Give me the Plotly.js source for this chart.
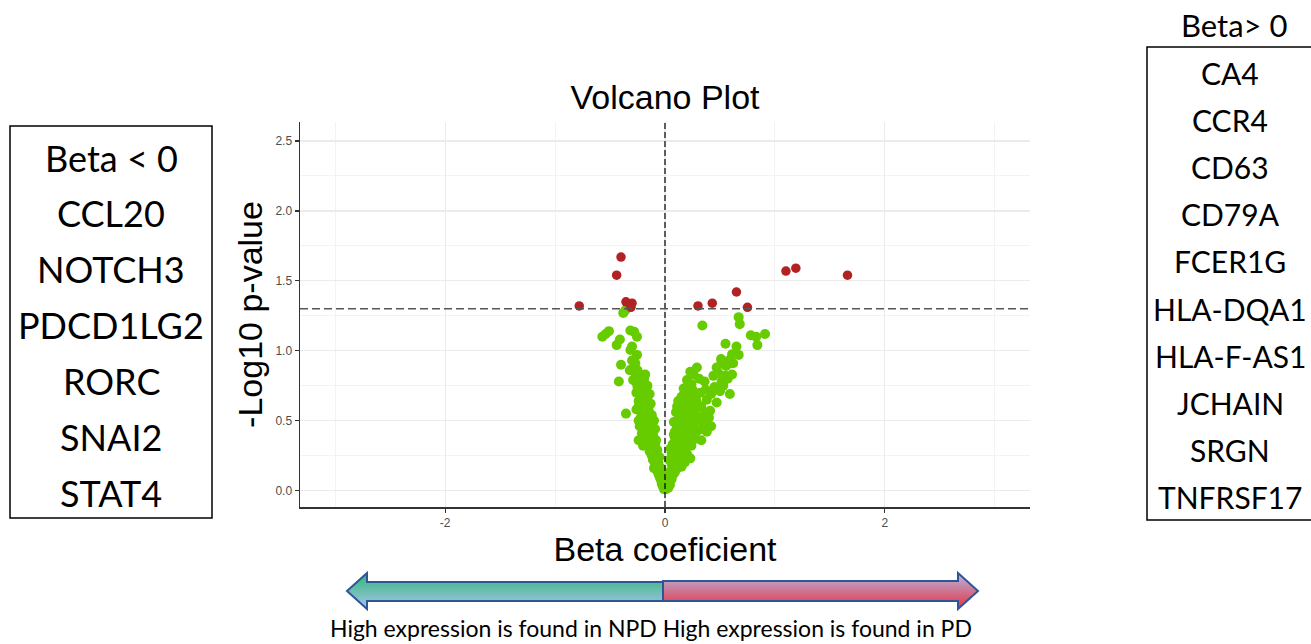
<!DOCTYPE html>
<html>
<head>
<meta charset="utf-8">
<script src="https://cdn.plot.ly/plotly-3.0.1.min.js"></script>
<style>
html,body{margin:0;padding:0;background:#ffffff;}
#chart{width:1311px;height:644px;}
</style>
</head>
<body>
<div id="chart"></div>
<script>
// ---------------- DATA ----------------
const greenX = [
  -0.01,-0.02,0.00,-0.03,-0.04,-0.02,-0.05,-0.06,-0.03,-0.07,-0.05,-0.08,
  -0.09,-0.06,-0.11,-0.08,-0.12,-0.05,-0.10,-0.14,-0.07,-0.13,
  -0.10,-0.16,-0.12,-0.20,-0.08,-0.15,-0.24,-0.18,-0.11,-0.14,-0.21,-0.09,-0.17,
  -0.23,-0.13,-0.19,-0.10,-0.16,-0.24,-0.21,-0.12,-0.18,-0.355,-0.26,-0.21,-0.15,-0.17,
  -0.22,-0.13,-0.19,-0.24,-0.16,-0.18,-0.21,-0.14,-0.23,-0.18,-0.20,-0.25,-0.16,
  -0.22,-0.42,-0.29,-0.19,-0.24,-0.18,-0.27,-0.32,-0.30,-0.40,-0.30,-0.28,-0.255,-0.315,
  -0.30,-0.44,-0.41,-0.255,-0.28,-0.315,-0.57,-0.54,-0.51,-0.38,-0.36,
  -0.02,-0.04,-0.06,-0.09,-0.12,-0.14,-0.17,-0.13,-0.20,-0.15,-0.22,-0.19,-0.24,
  -0.20,-0.26,-0.21,-0.25,-0.27,-0.09,-0.11,-0.07,-0.10,-0.04,-0.15,-0.26,-0.23,
  0.01,0.02,0.03,0.045,0.03,0.06,0.04,0.075,0.05,0.09,0.07,0.11,0.15,
  0.06,0.10,0.13,0.18,0.23,0.08,0.16,0.12,0.20,0.06,0.10,0.17,0.24,0.14,
  0.07,0.20,0.33,0.11,0.28,0.16,0.08,0.24,0.13,0.38,0.09,0.30,0.19,0.11,
  0.26,0.42,0.16,0.35,0.08,0.22,0.12,0.30,0.40,0.14,0.32,0.18,0.25,0.10,0.41,0.21,0.14,0.28,
  0.17,0.24,0.29,0.47,0.12,0.20,0.38,0.15,0.23,0.42,0.59,0.32,0.18,0.25,0.17,0.45,0.53,
  0.24,0.36,0.515,0.20,0.57,0.26,0.44,0.485,0.61,0.23,0.29,0.47,0.555,0.515,0.60,0.62,
  0.59,0.51,0.61,0.67,0.55,0.65,0.84,0.78,0.83,0.91,0.34,0.68,0.67,
  0.02,0.05,0.08,0.12,0.15,0.19,0.22,0.26,0.34,0.18,0.15,0.27,0.19,0.36,
  0.24,0.33,0.11,0.21,0.28,0.50,0.21,0.31,0.09,0.05,0.04,0.13,0.37,0.55
];
const greenY = [
  0.01,0.03,0.02,0.05,0.08,0.06,0.10,0.12,0.11,0.14,0.15,0.17,
  0.19,0.20,0.22,0.23,0.25,0.24,0.27,0.28,0.29,0.30,
  0.32,0.33,0.35,0.32,0.36,0.37,0.36,0.39,0.40,0.42,0.41,0.44,0.44,
  0.46,0.47,0.48,0.50,0.51,0.50,0.53,0.54,0.55,0.55,0.58,0.58,0.58,0.60,
  0.61,0.62,0.63,0.64,0.65,0.66,0.68,0.69,0.70,0.71,0.73,0.74,0.75,
  0.76,0.78,0.79,0.80,0.81,0.83,0.84,0.86,0.87,0.90,0.93,0.935,0.97,1.005,
  1.03,1.04,1.08,1.10,1.135,1.145,1.10,1.12,1.14,1.27,1.29,
  0.04,0.13,0.18,0.26,0.31,0.34,0.40,0.45,0.45,0.49,0.52,0.56,0.60,
  0.67,0.70,0.78,0.86,0.91,0.33,0.38,0.21,0.16,0.16,0.55,0.77,0.83,
  0.01,0.03,0.02,0.04,0.06,0.08,0.09,0.115,0.12,0.13,0.15,0.16,0.17,
  0.19,0.20,0.21,0.20,0.23,0.23,0.24,0.26,0.26,0.27,0.29,0.29,0.32,0.31,
  0.33,0.34,0.36,0.36,0.37,0.38,0.40,0.40,0.41,0.42,0.42,0.43,0.44,0.45,
  0.46,0.46,0.47,0.48,0.49,0.50,0.51,0.51,0.52,0.53,0.53,0.55,0.55,0.56,0.57,0.58,0.59,0.59,
  0.61,0.62,0.63,0.63,0.64,0.65,0.65,0.67,0.68,0.69,0.69,0.70,0.71,0.72,0.73,0.74,0.75,
  0.76,0.78,0.78,0.79,0.80,0.83,0.82,0.84,0.83,0.85,0.88,0.88,0.89,0.925,0.91,0.91,
  0.935,0.94,0.975,0.97,1.05,1.03,1.04,1.11,1.10,1.12,1.18,1.19,1.24,
  0.07,0.14,0.18,0.22,0.27,0.31,0.36,0.40,0.44,0.40,0.44,0.49,0.52,0.55,
  0.58,0.60,0.60,0.62,0.66,0.71,0.75,0.80,0.38,0.30,0.22,0.34,0.72,0.82
];
const redX = [-0.78,-0.40,-0.44,-0.355,-0.30,-0.31,0.30,0.43,0.65,0.75,1.10,1.19,1.66];
const redY = [1.32,1.67,1.54,1.35,1.34,1.31,1.32,1.34,1.42,1.31,1.57,1.59,1.54];

const pThreshold = 1.3;
const betaZero = 0;

const xTickVals = [-2, 0, 2];
const xTickText = ["-2", "0", "2"];
const xMinorVals = [-3, -1, 1, 3];
const yTickVals = [0, 0.5, 1, 1.5, 2, 2.5];
const yTickText = ["0.0", "0.5", "1.0", "1.5", "2.0", "2.5"];
const yMinorVals = [0.25, 0.75, 1.25, 1.75, 2.25];

const leftHeader = "Beta < 0";
const leftGenes = ["CCL20", "NOTCH3", "PDCD1LG2", "RORC", "SNAI2", "STAT4"];
const rightHeader = "Beta> 0";
const rightGenes = ["CA4", "CCR4", "CD63", "CD79A", "FCER1G", "HLA-DQA1", "HLA-F-AS1", "JCHAIN", "SRGN", "TNFRSF17"];
const bottomCaption = "High expression is found in NPD High expression is found in PD";
const chartTitle = "Volcano Plot";
const xTitle = "Beta coeficient";
const yTitle = "-Log10 p-value";

// ---------------- LAYOUT HELPERS (pixel -> paper) ----------------
const W = 1311, H = 644;
const ML = 300, MR = 281, MT = 122, MB = 137;
const PW = W - ML - MR, PH = H - MT - MB;
const px = v => (v - ML) / PW;
const py = v => (H - MB - v) / PH;

const boxFont = "Lato, 'Open Sans', sans-serif";
const plotFont = "'Liberation Sans', Arial, sans-serif";

const annotations = [];
function addText(text, x, y, size) {
  annotations.push({
    text: text, xref: 'paper', yref: 'paper', x: px(x), y: py(y),
    xanchor: 'center', yanchor: 'middle', showarrow: false,
    font: {family: boxFont, size: size, color: '#000000'}
  });
}
addText(leftHeader, 111, 158, 36);
leftGenes.forEach((g, i) => addText(g, 111, 213 + i * 56, 36));
addText(rightHeader, 1234, 25, 31);
rightGenes.forEach((g, i) => addText(g, 1230, 73 + i * 47.1, 30));
addText(bottomCaption, 651, 628, 23);

const shapes = [
  {type: 'rect', xref: 'paper', yref: 'paper', x0: px(10), x1: px(212), y0: py(126), y1: py(518),
   line: {color: '#000000', width: 1.5}, fillcolor: 'rgba(0,0,0,0)'},
  {type: 'rect', xref: 'paper', yref: 'paper', x0: px(1147), x1: px(1330), y0: py(47), y1: py(520),
   line: {color: '#000000', width: 1.5}, fillcolor: 'rgba(0,0,0,0)'},
  {type: 'line', xref: 'x', yref: 'paper', x0: betaZero, x1: betaZero, y0: 0, y1: 1,
   line: {color: '#000000', width: 1.2, dash: '6px,3px'}},
  {type: 'line', xref: 'paper', yref: 'y', x0: 0, x1: 1, y0: pThreshold, y1: pThreshold,
   line: {color: '#555555', width: 1.6, dash: '8px,4px'}}
];

// double arrow with gradients as an inline SVG image
const arrowSvg =
  '<svg xmlns="http://www.w3.org/2000/svg" width="635" height="42" viewBox="0 0 635 42" preserveAspectRatio="none">' +
  '<defs>' +
  '<linearGradient id="g1" x1="0" y1="0" x2="0" y2="1"><stop offset="0" stop-color="#2fb873"/><stop offset="1" stop-color="#a8c4ee"/></linearGradient>' +
  '<linearGradient id="g2" x1="0" y1="0" x2="0" y2="1"><stop offset="0" stop-color="#b4b9e4"/><stop offset="1" stop-color="#e8303f"/></linearGradient>' +
  '</defs>' +
  '<path d="M2,21 L22,3 L22,12 L318,12 L318,31 L22,31 L22,39 Z" fill="url(#g1)" stroke="#2f5597" stroke-width="2" stroke-linejoin="miter"/>' +
  '<path d="M318,11 L613,11 L613,3 L633,21 L613,39 L613,31 L318,31 Z" fill="url(#g2)" stroke="#2f5597" stroke-width="2" stroke-linejoin="miter"/>' +
  '</svg>';
const images = [{
  source: 'data:image/svg+xml;charset=utf-8,' + encodeURIComponent(arrowSvg),
  xref: 'paper', yref: 'paper', x: px(345), y: py(570),
  sizex: 635 / PW, sizey: 42 / PH, sizing: 'stretch',
  xanchor: 'left', yanchor: 'top', layer: 'above'
}];

const traces = [
  {type: 'scatter', mode: 'markers', x: greenX, y: greenY,
   marker: {color: '#66cc00', size: 10, line: {width: 0}}, hoverinfo: 'skip'},
  {type: 'scatter', mode: 'markers', x: redX, y: redY,
   marker: {color: '#b22222', size: 9.5, line: {width: 0}}, hoverinfo: 'skip'}
];

const layout = {
  width: W, height: H,
  margin: {l: ML, r: MR, t: MT, b: MB, pad: 0},
  paper_bgcolor: '#ffffff', plot_bgcolor: '#ffffff',
  showlegend: false,
  font: {family: plotFont, color: '#000000'},
  title: {text: chartTitle, x: 0.5, xref: 'paper', xanchor: 'center',
          y: 1 - 97 / H, yref: 'container', yanchor: 'middle',
          font: {family: plotFont, size: 34, color: '#000000'}},
  xaxis: {
    range: [-3.32, 3.32], tickmode: 'array', tickvals: xTickVals, ticktext: xTickText,
    showgrid: true, gridcolor: '#ebebeb', gridwidth: 1.2,
    minor: {tickmode: 'array', tickvals: xMinorVals, showgrid: true, gridcolor: '#f3f3f3', gridwidth: 1, ticks: ''},
    zeroline: false, showline: true, linecolor: '#333333', linewidth: 1.5,
    ticks: 'outside', ticklen: 4, tickcolor: '#333333', tickwidth: 1.2,
    tickfont: {family: plotFont, size: 12, color: '#4d4d4d'},
    title: {text: xTitle, font: {family: plotFont, size: 34, color: '#000000'}, standoff: 3}
  },
  yaxis: {
    range: [-0.118, 2.636], tickmode: 'array', tickvals: yTickVals, ticktext: yTickText,
    showgrid: true, gridcolor: '#ebebeb', gridwidth: 1.2,
    minor: {tickmode: 'array', tickvals: yMinorVals, showgrid: true, gridcolor: '#f3f3f3', gridwidth: 1, ticks: ''},
    zeroline: false, showline: true, linecolor: '#333333', linewidth: 1.5,
    ticks: 'outside', ticklen: 4, tickcolor: '#333333', tickwidth: 1.2,
    tickfont: {family: plotFont, size: 12, color: '#4d4d4d'},
    title: {text: yTitle, font: {family: plotFont, size: 34, color: '#000000'}, standoff: 2}
  },
  shapes: shapes,
  annotations: annotations,
  images: images
};

Plotly.newPlot('chart', traces, layout, {displayModeBar: false, staticPlot: true});
</script>
</body>
</html>
